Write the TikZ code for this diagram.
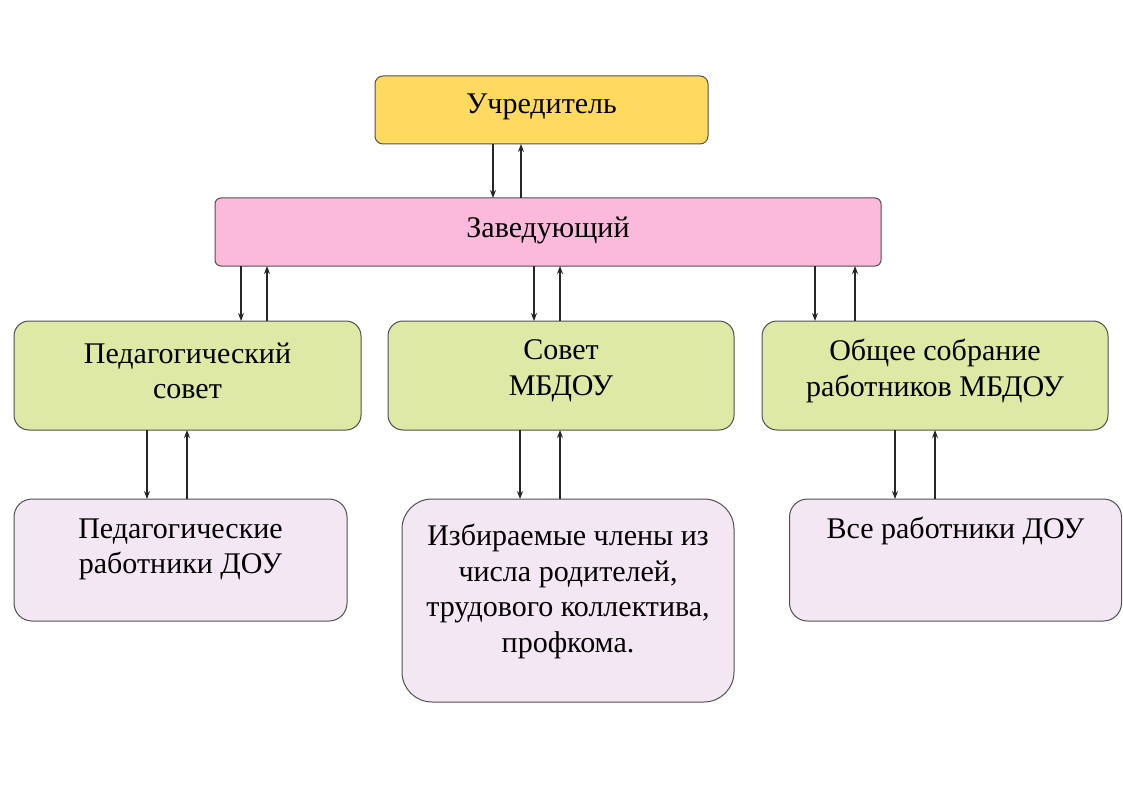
\documentclass[tikz,border=0pt]{standalone}
\usepackage{fontspec}
\setmainfont{Liberation Serif}
\usetikzlibrary{arrows.meta}
\definecolor{cyel}{HTML}{FFDA5E}
\definecolor{cpink}{HTML}{FBBADB}
\definecolor{cgreen}{HTML}{DDE9A5}
\definecolor{clav}{HTML}{F4E7F4}
\definecolor{cbord}{HTML}{505050}
\begin{document}
\begin{tikzpicture}[x=1pt,y=-1pt,
  box/.style={draw=cbord,line width=1pt,inner sep=0pt,outer sep=0pt},
  txt/.style={align=center,inner sep=0pt,font=\fontsize{30}{35.5}\selectfont},
  arr/.style={draw=black!85,line width=1.1pt,-{Stealth[length=8pt,width=6pt]}}]
\useasboundingbox[fill=white] (0,0) rectangle (1123,794);
% boxes
\node[box,fill=cyel,rounded corners=8pt,minimum width=333pt,minimum height=68pt] (u) at (541.5,110) {};
\node[box,fill=cpink,rounded corners=6pt,minimum width=666pt,minimum height=68pt] (z) at (548,232) {};
\node[box,fill=cgreen,rounded corners=15pt,minimum width=347pt,minimum height=109pt] (p1) at (187.5,375.5) {};
\node[box,fill=cgreen,rounded corners=15pt,minimum width=346pt,minimum height=109pt] (p2) at (561,375.5) {};
\node[box,fill=cgreen,rounded corners=15pt,minimum width=346pt,minimum height=109pt] (p3) at (935,375.5) {};
\node[box,fill=clav,rounded corners=18pt,minimum width=333pt,minimum height=122pt] (q1) at (180.5,560) {};
\node[box,fill=clav,rounded corners=30pt,minimum width=332pt,minimum height=203pt] (q2) at (568,600.5) {};
\node[box,fill=clav,rounded corners=18pt,minimum width=332pt,minimum height=122pt] (q3) at (955.5,560) {};
% texts
\node[txt] (tu) at (541.5,107) {Учредитель};
\node[txt] (tz) at (548,230) {Заведующий};
\node[txt] (tp1) at (187.5,371) {Педагогический\\совет};
\node[txt] (tp2) at (561,371) {Совет\\МБДОУ};
\node[txt] (tp3) at (935,371) {Общее собрание\\работников МБДОУ};
\node[txt] (tq1) at (180.5,549.5) {Педагогические\\работники ДОУ};
\node[txt] (tq2) at (568,591.5) {Избираемые члены из\\числа родителей,\\трудового коллектива,\\профкома.};
\node[txt] (tq3) at (955.5,531) {Все работники ДОУ};
% arrows
\draw[arr] ([xshift=-48.5pt]u.south) -- ([xshift=-48.5pt]u.south |- z.north);
\draw[arr] ([xshift=-20.5pt]u.south |- z.north) -- ([xshift=-20.5pt]u.south);
\draw[arr] ([xshift=-307pt]z.south) -- ([xshift=-307pt]z.south |- p1.north);
\draw[arr] ([xshift=-281pt]z.south |- p1.north) -- ([xshift=-281pt]z.south);
\draw[arr] ([xshift=-14pt]z.south) -- ([xshift=-14pt]z.south |- p2.north);
\draw[arr] ([xshift=12pt]z.south |- p2.north) -- ([xshift=12pt]z.south);
\draw[arr] ([xshift=267pt]z.south) -- ([xshift=267pt]z.south |- p3.north);
\draw[arr] ([xshift=307pt]z.south |- p3.north) -- ([xshift=307pt]z.south);
\draw[arr] ([xshift=-40.5pt]p1.south) -- ([xshift=-40.5pt]p1.south |- q1.north);
\draw[arr] ([xshift=-0.5pt]p1.south |- q1.north) -- ([xshift=-0.5pt]p1.south);
\draw[arr] ([xshift=-41pt]p2.south) -- ([xshift=-41pt]p2.south |- q2.north);
\draw[arr] ([xshift=-1pt]p2.south |- q2.north) -- ([xshift=-1pt]p2.south);
\draw[arr] ([xshift=-40pt]p3.south) -- ([xshift=-40pt]p3.south |- q3.north);
\draw[arr] (p3.south |- q3.north) -- (p3.south);
\end{tikzpicture}
\end{document}
